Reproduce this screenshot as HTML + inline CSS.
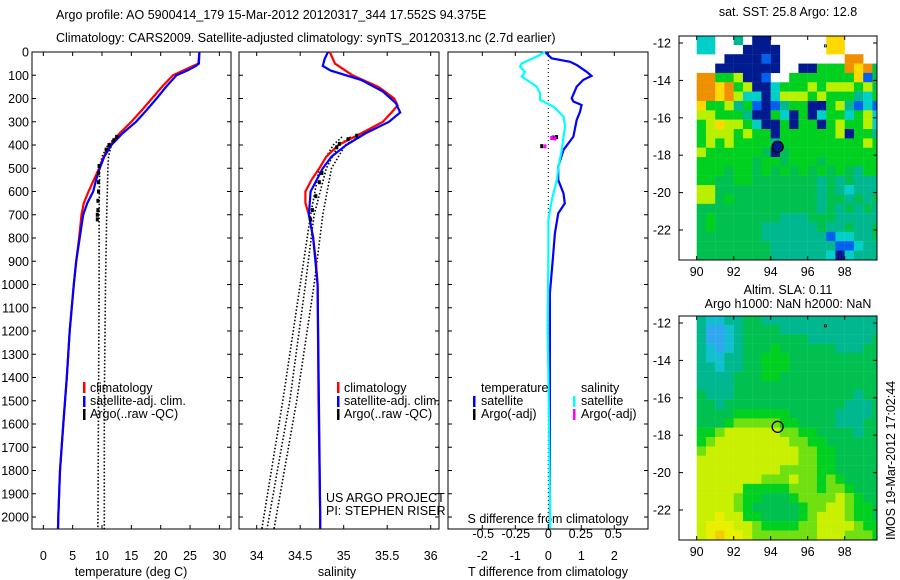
<!DOCTYPE html>
<html><head><meta charset="utf-8"><style>
html,body{margin:0;padding:0;background:#fff;}
svg{display:block;font-family:"Liberation Sans",sans-serif;}
text{font-size:12.5px;fill:#000;}
</style></head><body>
<svg id="fig" width="900" height="580" viewBox="0 0 900 580" xmlns="http://www.w3.org/2000/svg">
<text x="56" y="19">Argo profile: AO 5900414_179 15-Mar-2012 20120317_344 17.552S 94.375E</text>
<text x="56" y="42">Climatology: CARS2009. Satellite-adjusted climatology: synTS_20120313.nc (2.7d earlier)</text>
<text x="788" y="16" text-anchor="middle">sat. SST: 25.8 Argo: 12.8</text>
<text x="788" y="294" text-anchor="middle">Altim. SLA: 0.11</text>
<text x="788" y="308" text-anchor="middle">Argo h1000: NaN h2000: NaN</text>
<text transform="translate(895,540) rotate(-90)">IMOS 19-Mar-2012 17:02:44</text>
<g id="g"></g>
</svg>
<script>
// ---------- data ----------
const depthTicks=[0,100,200,300,400,500,600,700,800,900,1000,1100,1200,1300,1400,1500,1600,1700,1800,1900,2000];
const tempTicks=[0,5,10,15,20,25,30];
const salTicks=[34,34.5,35,35.5,36];
const tdiffTicks=[-2,-1,0,1,2];
const sdiffTicks=[-0.5,-0.25,0,0.25,0.5];
const sdiffTickLabels=["-0.5","-0.25","0","0.25","0.5"];
const latTicks=[-12,-14,-16,-18,-20,-22];
const lonTicks=[90,92,94,96,98];

const climTDepth=[0,50,60,80,100,150,200,250,300,350,400,450,500,550,600,650,700,800,900,1000,1200,1400,1600,1800,2000,2050];
const climT=[26.6,26.4,25.5,23.8,22.1,20.2,18.5,16.8,15.0,13.0,11.4,10.3,9.5,8.6,7.7,6.9,6.5,6.1,5.6,5.2,4.5,4.0,3.4,2.85,2.55,2.5];
const satT=[26.6,26.5,26.0,24.5,22.7,20.9,19.3,17.6,15.8,13.5,11.6,10.4,9.6,9.0,8.5,7.5,6.8,6.2,5.6,5.2,4.5,4.0,3.4,2.85,2.55,2.5];
const argoTDots1Depth=[360,400,450,500,700,1000,1500,2050];
const argoTDots1=[12.6,11.0,10.0,9.6,9.5,9.5,9.4,9.3];
const argoTDots2=[13.0,11.6,11.1,11.0,10.8,10.6,10.4,10.4];
const argoTPtDepth=[365,380,400,420,490,520,560,600,640,680,700,720];
const argoTPt=[12.5,12.0,11.2,10.7,9.5,9.4,9.4,9.4,9.3,9.3,9.2,9.2];

const climSDepth=[0,50,100,150,200,230,260,300,350,400,450,500,550,600,650,700,800,900,1000,1500,2000,2050];
const climS=[34.84,34.9,35.1,35.4,35.58,35.62,35.55,35.45,35.2,34.94,34.8,34.72,34.63,34.56,34.56,34.6,34.65,34.68,34.7,34.71,34.73,34.73];
const satSDepth=[0,30,60,80,120,170,220,260,300,350,400,450,500,600,700,800,1000,2000,2050];
const satS=[34.82,34.78,34.76,34.85,35.2,35.45,35.6,35.65,35.52,35.25,35.03,34.86,34.76,34.62,34.6,34.65,34.7,34.73,34.73];
const argoSDepth=[365,400,500,700,1000,1500,2050];
const argoSDots1=[34.98,34.88,34.72,34.62,34.5,34.3,34.06];
const argoSDots2=[35.08,34.94,34.8,34.66,34.56,34.38,34.12];
const argoSDots3=[35.17,35.02,34.86,34.76,34.66,34.46,34.2];
const argoSPtDepth=[360,375,395,410,520,560,620,680,720];
const argoSPt=[35.15,35.05,34.95,34.92,34.75,34.72,34.68,34.64,34.62];

const tdDepth=[0,27,42,56,85,103,120,149,199,213,228,257,292,364,421,493,550,608,651,694,780,866,952,1038,1167,1382,1999,2050];
const tdSat=[-0.1,0.1,0.66,0.86,1.16,1.31,1.06,0.86,0.71,0.76,1.01,0.96,0.86,0.76,0.46,0.3,0.3,0.46,0.5,0.3,0.2,0.15,0.1,0.05,0.05,0.05,0.05,0.05];
const sdDepth=[0,20,49,63,85,106,120,149,178,206,235,278,321,364,421,493,550,636,722,866,1196,1382,1999,2050];
const sdSat=[-0.025,-0.089,-0.204,-0.217,-0.179,-0.204,-0.166,-0.089,-0.063,-0.063,0.04,0.117,0.13,0.117,0.104,0.078,0.066,0.027,0.001,0.001,-0.005,0.001,0.014,0.014];

const sstGrid=[
"CCWWTWNNWWWWWWyyWWWW","CCWWWNNNNWWWWWyyWWWW","WWWNNNNBNWWWWWWWOOWW","WWNNNNNNNWWNNGGGOyOg",
"OOGGYNNBWWGGGGGGGyBg","OOyOGYNNCGGGYGYYYGYg","OOyOYCCNCYYYGYGGGTCG","yGGYTGBNBTGGNNGYTBCB",
"YYGGGTNNGCNGNCGGCGYC","GYyYYGCNNGNGGNGYGGYC","GYYYGYGGNGGGGGGYNGGT","GYGYGGGGTGGGGGGGGGYG",
"YGGGGGGgNgGGGGGGGGGG","GGGGGGgGGgGGGgGGGGGG","GGGgGGgGgGgGgGgGgTGG","GGggGGgggggggTgTgTTT",
"YYgggggggggggTgTCTTT","YYgGgggggggggTggTgTg","gggggggggggggTgTgTgT","gGgggggggTTTgggTTTTT",
"gGgggggTTTTTTgTTgTTg","gggggggTTTTTTTBCCTTg","ggggggggTTTTTTTBBCTT","ggggggggTTTTTTCNCTTT"];
const slaGrid=[
"TCCTTggTTTTTTTTTTTTT","TBBCTggggTTTTTTTTTTT","TBBCTgggggggTTTTTTTg","TCBCTgggGggggggTTTgg",
"TCCTTggGGGgggggggggg","TTCTTggGGGgggggggggg","TTTTgggGGggggggggggg","TTTTgggggggggggggggg",
"gTTTgggggggggggggTgg","ggTgggggggggggggTTTg","ggggGGGGGGgggggTTTTg","gggGLLLLLGGggggTTTgg",
"GGLYYYYYYLLGGggggTgg","GLYYYYYYYYLLGGgggggg","LYYYYYYYYYYLLGGggggg","YYYYYYYYYYYLLGGggggg",
"YYYYYYYYYLLLLGGggggg","YYYYYYYLLLYLLGLGgggg","YYYYYGGGGGLLLGLLGggg","YYYYLGGgggGLLLLYLGgg",
"YYYYLGgggggGLLYYLGGg","YYyYYGGggggGLYYYLGGg","YyyyYYLGGGGLLYYYYLGG","YyOyyYLLLLLLLYYYLLLG"];
const argoLon=94.375, argoLat=-17.552;

// ---------- helpers ----------
const NS="http://www.w3.org/2000/svg";
const G=document.getElementById('g');
function el(tag,attrs,parent){const e=document.createElementNS(NS,tag);for(const k in attrs)e.setAttribute(k,attrs[k]);(parent||G).appendChild(e);return e;}
const Y0=52, PXD=0.2325;
const yD=d=>Y0+d*PXD;
const BOT=529;
const xT=t=>43.3+t*5.87;
const xS=s=>256.7+(s-34)*87;
const xTD=v=>548.3+v*33;
const xSD=v=>548.3+v*130;
function line(xs,ys,color,w,name,dash){
  const p=xs.map((x,i)=>x.toFixed(1)+','+ys[i].toFixed(1)).join(' ');
  const e=el('polyline',{points:p,fill:'none',stroke:color,'stroke-width':w});
  if(dash)e.setAttribute('stroke-dasharray',dash);
  
  
  return e;
}
function txt(x,y,s,anchor,name){
  const e=el('text',{x:x,y:y,'text-anchor':anchor||'start'});e.textContent=s;
  
  
  return e;
}
function frame(x0,x1,y0,y1,name){
  const e=el('rect',{x:x0,y:y0,width:x1-x0,height:y1-y0,fill:'none',stroke:'#000','stroke-width':1});
  
  
}
function depthTicksFor(x0,x1,labels){
  depthTicks.forEach(d=>{
    const y=yD(d);
    el('line',{x1:x0,y1:y,x2:x0+4,y2:y,stroke:'#000'});
    el('line',{x1:x1,y1:y,x2:x1-4,y2:y,stroke:'#000'});
    if(labels)txt(x0-3,y+4.5,String(d),'end','depth-tick-label');
  });
}
function xTicks(vals,fx,labs,y0,y1,ly,name){
  vals.forEach((v,i)=>{
    const x=fx(v);
    el('line',{x1:x,y1:y1,x2:x,y2:y1-4,stroke:'#000'});
    el('line',{x1:x,y1:y0,x2:x,y2:y0+4,stroke:'#000'});
    txt(x,ly,labs[i],'middle',name);
  });
}
function legendBar(x,y,color){el('rect',{x:x,y:y,width:2.5,height:11,fill:color});}

// ---------- panel 1 ----------
frame(32,231,Y0,BOT,'temperature-panel');
depthTicksFor(32,231,true);
xTicks(tempTicks,xT,tempTicks.map(String),Y0,BOT,560,'temperature-tick-label');
txt(131,576,'temperature (deg C)','middle','temperature-axis-title');
line(argoTDots1.map(xT),argoTDots1Depth.map(yD),'#000',1.6,'argo-temp-dots-1','1.5 2');
line(argoTDots2.map(xT),argoTDots1Depth.map(yD),'#000',1.6,'argo-temp-dots-2','1.5 2');
line(climT.map(xT),climTDepth.map(yD),'#ff0000',2.2,'temp-climatology-line');
line(satT.map(xT),climTDepth.map(yD),'#0000ff',2.2,'temp-satellite-line');
argoTPt.forEach((t,i)=>{const r=el('rect',{x:xT(t)-1.5,y:yD(argoTPtDepth[i])-2,width:3,height:4,fill:'#000'});
  });
legendBar(83,382,'#ff0000');txt(90,392,'climatology','start','legend-climatology');
legendBar(83,396,'#0000ff');txt(90,405,'satellite-adj. clim.','start','legend-satellite');
legendBar(83,409,'#000');txt(90,418,'Argo(..raw -QC)','start','legend-argo');

// ---------- panel 2 ----------
frame(239,439,Y0,BOT,'salinity-panel');
depthTicksFor(239,439,false);
xTicks(salTicks,xS,["34","34.5","35","35.5","36"],Y0,BOT,560,'salinity-tick-label');
txt(337,576,'salinity','middle','salinity-axis-title');
line(argoSDots1.map(xS),argoSDepth.map(yD),'#000',1.6,'argo-sal-dots-1','1.5 2');
line(argoSDots2.map(xS),argoSDepth.map(yD),'#000',1.6,'argo-sal-dots-2','1.5 2');
line(argoSDots3.map(xS),argoSDepth.map(yD),'#000',1.6,'argo-sal-dots-3','1.5 2');
line(climS.map(xS),climSDepth.map(yD),'#ff0000',2.2,'sal-climatology-line');
line(satS.map(xS),satSDepth.map(yD),'#0000ff',2.2,'sal-satellite-line');
argoSPt.forEach((s,i)=>{const r=el('rect',{x:xS(s)-1.5,y:yD(argoSPtDepth[i])-2,width:3,height:4,fill:'#000'});
  });
legendBar(337,382,'#ff0000');txt(344,392,'climatology','start','legend-climatology-2');
legendBar(337,396,'#0000ff');txt(344,405,'satellite-adj. clim.','start','legend-satellite-2');
legendBar(337,409,'#000');txt(344,418,'Argo(..raw -QC)','start','legend-argo-2');
txt(326,502,'US ARGO PROJECT','start','project-label');
txt(326,515,'PI: STEPHEN RISER','start','pi-label');

// ---------- panel 3 ----------
frame(448,648,Y0,BOT,'difference-panel');
depthTicksFor(448,648,false);
xTicks(tdiffTicks,xTD,tdiffTicks.map(String),Y0,BOT,560,'tdiff-tick-label');
txt(548,576,'T difference from climatology','middle','tdiff-axis-title');
sdiffTicks.forEach((v,i)=>txt(xSD(v),538,sdiffTickLabels[i],'middle','sdiff-tick-label'));
txt(548,523,'S difference from climatology','middle','sdiff-axis-title');
line([xTD(0),xTD(0)],[Y0,BOT],'#000',1,'zero-line','1 3');
line(tdSat.map(xTD),tdDepth.map(yD),'#0000ff',2.2,'tdiff-satellite-line');
line(sdSat.map(xSD),sdDepth.map(yD),'#00ffff',2.2,'sdiff-satellite-line');
[[0.15,368,'#000'],[0.25,366,'#000'],[-0.2,405,'#000'],[0.1,370,'#ff00ff'],[0.2,372,'#ff00ff'],[-0.1,406,'#ff00ff']].forEach(p=>{
  const r=el('rect',{x:xTD(p[0])-1.5,y:yD(p[1])-2,width:3,height:4,fill:p[2]});
  });
txt(481,392,'temperature','start','legend-temperature-header');
legendBar(473,396,'#0000ff');txt(481,405,'satellite','start','legend-t-satellite');
legendBar(473,409,'#000');txt(481,418,'Argo(-adj)','start','legend-t-argo');
txt(581,392,'salinity','start','legend-salinity-header');
legendBar(573,396,'#00ffff');txt(581,405,'satellite','start','legend-s-satellite');
legendBar(573,409,'#ff00ff');txt(581,418,'Argo(-adj)','start','legend-s-argo');

// ---------- maps ----------
const sstColors={W:null,N:'#001a90',B:'#0060f0',C:'#00d0c8',T:'#00b890',G:'#00d020',g:'#00c050',Y:'#b8f000',y:'#ffd800',O:'#f09000'};
const slaColors={B:'#30a8f0',C:'#10c0d0',T:'#00b890',g:'#00c050',G:'#00d020',L:'#70e010',Y:'#c8f000',y:'#e8f000',O:'#f0d000'};
function drawMap(grid,colors,x0,x1,yTop,yBot,latTopPx,name,filled){
  const lonX=lon=>696.7+(lon-90)*18.5;
  const latY=lat=>latTopPx+(-12-lat)*18.7;
  const clip='clip-'+name;
  const cp=el('clipPath',{id:clip});el('rect',{x:x0,y:yTop,width:x1-x0,height:yBot-yTop},cp);
  const g=el('g',{'clip-path':'url(#'+clip+')'});
  
  
  grid.forEach((row,r)=>{
    for(let c=0;c<row.length;c++){
      const col=colors[row[c]];if(!col)continue;
      const lat=-11.6-r*0.5, lon=90+c*0.5;
      el('rect',{x:lonX(lon),y:latY(lat),width:9.4,height:9.5,fill:col},g);
    }
  });
  frame(x0,x1,yTop,yBot,name+'-frame');
  latTicks.forEach(l=>{const y=latY(l);
    el('line',{x1:x0,y1:y,x2:x0+4,y2:y,stroke:'#000'});el('line',{x1:x1,y1:y,x2:x1-4,y2:y,stroke:'#000'});
    txt(x0-8,y+4.5,String(l),'end',name+'-lat-label');});
  lonTicks.forEach(l=>{const x=lonX(l);
    el('line',{x1:x,y1:yBot,x2:x,y2:yBot-4,stroke:'#000'});el('line',{x1:x,y1:yTop,x2:x,y2:yTop+4,stroke:'#000'});
    txt(x,yBot+16,String(l),'middle',name+'-lon-label');});
  const c=el('circle',{cx:lonX(argoLon),cy:latY(argoLat),r:5.5,fill:filled?'#001a90':'none',stroke:'#000','stroke-width':1.3});
  
  
  el('rect',{x:lonX(96.9),y:latY(-12.1),width:2,height:2,fill:'none',stroke:'#000','stroke-width':0.8});
}
drawMap(sstGrid,sstColors,679,877,36,260,43,'sst-map',true);
drawMap(slaGrid,slaColors,679,877,316,540,323,'sla-map',false);
</script>
</body></html>
